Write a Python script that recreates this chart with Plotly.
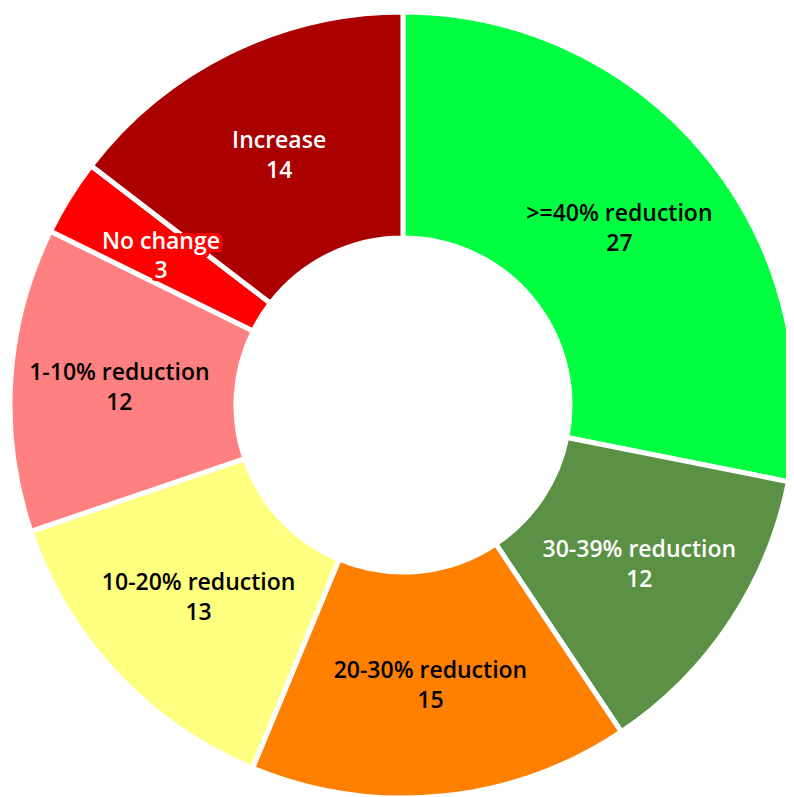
import plotly.graph_objects as go

labels = [">=40% reduction", "30-39% reduction", "20-30% reduction", "10-20% reduction",
          "1-10% reduction", "No change", "Increase"]
values = [27, 12, 15, 13, 12, 3, 14]
colors = ["#00FF41", "#5B9144", "#FF8000", "#FFFF80", "#FF8080", "#FF0000", "#AA0000"]
text_colors = ["#000000", "#FFFFFF", "#000000", "#000000", "#000000", "#FFFFFF", "#FFFFFF"]

small = [v < 5 for v in values]
main_tmpl = ["" if s else "%{label}<br>%{value}" for s in small]
over_tmpl = ["%{label}<br>%{value}" if s else "" for s in small]

fig = go.Figure()
fig.add_trace(go.Pie(
    labels=labels,
    values=values,
    hole=0.425,
    sort=False,
    direction="clockwise",
    rotation=0,
    marker=dict(colors=colors, line=dict(color="#FFFFFF", width=5)),
    texttemplate=main_tmpl,
    textposition="inside",
    insidetextorientation="horizontal",
    textfont=dict(family="Open Sans", size=23, color=text_colors, weight=600),
    domain=dict(x=[0.0025, 0.9924], y=[0.0088, 0.995]),
    showlegend=False,
))
# overlay ring (transparent) to place the label of the small slice mid-ring
fig.add_trace(go.Pie(
    labels=labels,
    values=values,
    hole=0.55,
    sort=False,
    direction="clockwise",
    rotation=0,
    marker=dict(colors=["rgba(0,0,0,0)"] * len(values), line=dict(width=0)),
    texttemplate=over_tmpl,
    textposition="inside",
    insidetextorientation="horizontal",
    textfont=dict(family="Open Sans", size=23, color="#FFFFFF", weight=600,
                  shadow=("3px 3px 0 #FF0000, -3px -3px 0 #FF0000, 3px -3px 0 #FF0000, "
                          "-3px 3px 0 #FF0000, 0 3px 0 #FF0000, 0 -3px 0 #FF0000, "
                          "3px 0 0 #FF0000, -3px 0 0 #FF0000")),
    domain=dict(x=[0.1033, 0.8917], y=[0.1092, 0.8946]),
    showlegend=False,
    hoverinfo="skip",
))

fig.update_layout(
    width=794, height=797,
    margin=dict(l=0, r=0, t=0, b=0),
    paper_bgcolor="#FFFFFF",
    plot_bgcolor="#FFFFFF",
    uniformtext=dict(minsize=23, mode="show"),
)

fig.write_html("out.html")
